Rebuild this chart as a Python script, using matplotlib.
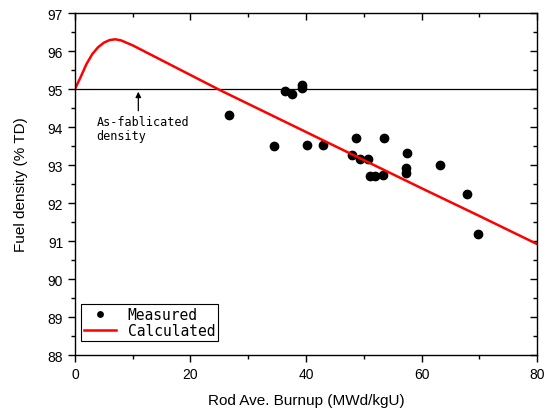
import numpy as np
import matplotlib.pyplot as plt
from matplotlib.ticker import MultipleLocator

# Measured points (burnup MWd/kgU, density %TD)
meas_x = [26.7, 34.4, 36.3, 37.6, 39.3, 39.3, 40.2, 42.9, 47.9, 48.7, 49.4, 50.8,
          51.1, 52.0, 53.4, 53.5, 57.3, 57.3, 57.5, 63.1, 67.9, 69.7]
meas_y = [94.31, 93.51, 94.95, 94.88, 95.10, 95.02, 93.53, 93.53, 93.26, 93.72, 93.17, 93.17,
          92.70, 92.72, 92.73, 93.70, 92.92, 92.79, 93.31, 93.00, 92.25, 91.19]

# Calculated curve
calc_x = [0, 0.5, 1, 2, 3, 4, 5, 6, 7, 8, 10, 15, 20, 25, 30, 40, 50, 60, 70, 80]
calc_y = [95.0, 95.16, 95.32, 95.66, 95.92, 96.1, 96.22, 96.29, 96.31, 96.28, 96.15,
          95.76, 95.37, 94.98, 94.61, 93.87, 93.13, 92.39, 91.66, 90.92]

asfab = 95.0

plt.rcParams['font.family'] = ['Liberation Sans', 'DejaVu Sans']

fig = plt.figure(figsize=(5.47, 4.14), dpi=100)
ax = fig.add_axes([0.137, 0.140, 0.845, 0.826])

ax.plot([0, 80], [asfab, asfab], color='black', lw=0.9)
ax.plot(meas_x, meas_y, 'o', color='black', ms=6, label='Measured')
ax.plot(calc_x, calc_y, color='red', lw=1.8, label='Calculated')

# arrow + note for the as-fabricated line
ax.annotate('', xy=(10.97, 94.93), xytext=(10.97, 94.43),
            arrowprops=dict(arrowstyle='-|>', color='black', lw=0.9,
                            shrinkA=0, shrinkB=0, mutation_scale=8))
ax.text(3.75, 94.33, 'As-fablicated\ndensity', fontsize=8.5,
        family='DejaVu Sans Mono', va='top', ha='left', linespacing=1.15)

ax.set_xlim(0, 80)
ax.set_ylim(88, 97)
ax.xaxis.set_major_locator(MultipleLocator(20))
ax.xaxis.set_minor_locator(MultipleLocator(10))
ax.yaxis.set_major_locator(MultipleLocator(1))
ax.yaxis.set_minor_locator(MultipleLocator(0.5))
ax.tick_params(which='both', direction='out', labelsize=10, width=1)
ax.tick_params(which='major', length=5)
ax.tick_params(which='minor', length=3)
ax.tick_params(which='both', top=True, right=True)
for t in ax.xaxis.get_ticklines(minor=False)[1::2] + ax.xaxis.get_ticklines(minor=True)[1::2]:
    t.set_marker(3)
for t in ax.yaxis.get_ticklines(minor=False)[1::2] + ax.yaxis.get_ticklines(minor=True)[1::2]:
    t.set_marker(0)
for s in ax.spines.values():
    s.set_linewidth(1)

ax.set_xlabel('Rod Ave. Burnup (MWd/kgU)', fontsize=11, labelpad=9)
ax.set_ylabel('Fuel density (% TD)', fontsize=11, labelpad=14)

leg = ax.legend(loc='lower left', bbox_to_anchor=(0.013, 0.04), frameon=True,
                fancybox=False, edgecolor='black', framealpha=1,
                prop={'family': 'DejaVu Sans Mono', 'size': 10.5},
                markerscale=0.65,
                handlelength=2.2, handletextpad=0.8, borderpad=0.2,
                labelspacing=0.1, borderaxespad=0)
leg.get_frame().set_linewidth(0.8)

fig.savefig('out.png', dpi=100)
